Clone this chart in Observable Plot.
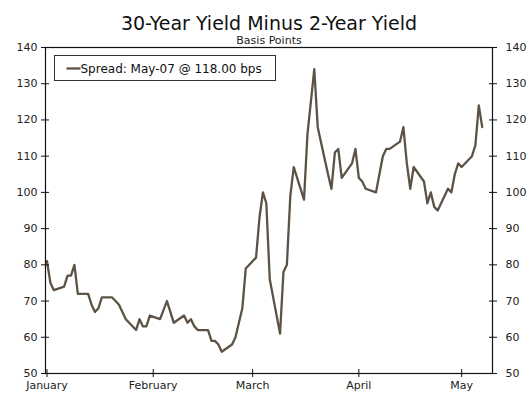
<!DOCTYPE html>
<html>
<head>
<meta charset="utf-8">
<script src="https://cdn.jsdelivr.net/npm/d3@7"></script>
<script src="https://cdn.jsdelivr.net/npm/@observablehq/plot@0.6"></script>
<style>
  body { margin: 0; background: #fff; }
  #chart svg { display: block; }
</style>
</head>
<body>
<div id="chart"></div>
<script>
// 30-year minus 2-year Treasury yield spread, basis points, one value per weekday
const janSpread = [81, 75, 73, 74, 77, 77, 80, 72, 72, 69, 67, 68, 71, 71, 70, 69, 67, 65, 62, 65, 63, 63, 66];
const febSpread = [65, 67.5, 70, 67, 64, 66, 64, 65, 63, 62, 62, 59, 59, 58, 56, 58, 60, 64, 68, 79];
const marSpread = [82, 93, 100, 97, 76, 61, 78, 80, 99, 107, 98, 116, 125, 134, 118, 105, 101, 111, 112, 104, 108, 112];
const aprSpread = [104, 103, 101, 100, 105, 110, 112, 112, 114, 118, 108, 101, 107, 103, 97, 100, 96, 95, 101, 100, 105, 108];
const maySpread = [107, 110, 113, 124, 118];

const firstDay = "2020-01-01";
const lastDay = "2020-05-07";
const yTicks = [50, 60, 70, 80, 90, 100, 110, 120, 130, 140];
const monthTicks = ["2020-01-01", "2020-02-01", "2020-03-01", "2020-04-01", "2020-05-01"];

const title = "30-Year Yield Minus 2-Year Yield";
const subtitle = "Basis Points";
const seriesName = "Spread";
const lineColor = "#5d5246";
const font = "'DejaVu Sans', Verdana, sans-serif";

// weekdays of the period, paired with the spread readings
const days = d3.utcDays(new Date(firstDay), d3.utcDay.offset(new Date(lastDay), 1))
  .filter(d => d.getUTCDay() !== 0 && d.getUTCDay() !== 6);
const values = [...janSpread, ...febSpread, ...marSpread, ...aprSpread, ...maySpread];
const rows = days.map((date, i) => ({date, spread: values[i]}));

const last = rows[rows.length - 1];
const legendLabel = `${seriesName}: ${d3.utcFormat("%b-%d")(last.date)} @ ${last.spread.toFixed(2)} bps`;

const axisStyle = {fontSize: 11, fontFamily: font, fill: "#222"};

const chart = Plot.plot({
  width: 529,
  height: 398,
  marginLeft: 45,
  marginRight: 37,
  marginTop: 47,
  marginBottom: 25,
  style: {fontFamily: font, background: "#fff", color: "#222"},
  x: {type: "utc", domain: [new Date("2019-12-31T13:30Z"), new Date("2020-05-10T00:00Z")]},
  y: {domain: [50, 140]},
  marks: [
    Plot.line(rows, {x: "date", y: "spread", stroke: lineColor, strokeWidth: 2.3, strokeLinejoin: "round"}),
    Plot.frame({stroke: "#111", strokeWidth: 1.2}),
    Plot.axisY({anchor: "left", ticks: yTicks, tickSize: 8, dx: 4, tickPadding: 4, label: null, stroke: "#111", ...axisStyle}),
    Plot.axisY({anchor: "right", ticks: yTicks, tickSize: 8, dx: -4, tickPadding: 9, label: null, stroke: "#111", ...axisStyle}),
    Plot.axisX({anchor: "bottom", ticks: monthTicks.map(d => new Date(d)), tickFormat: d3.utcFormat("%B"),
      tickSize: 8, dy: -4, tickPadding: 4, label: null, stroke: "#111", ...axisStyle}),
    Plot.text([title], {frameAnchor: "top", dy: -31, fontSize: 19, fontFamily: font, fill: "#111"}),
    Plot.text([subtitle], {frameAnchor: "top", dy: -11, fontSize: 11, fontFamily: font, fill: "#222"})
  ]
});

// legend box in the upper-left corner of the frame
const svg = d3.select(chart);
const legend = svg.append("g").attr("transform", "translate(54.5,55.5)");
legend.append("rect").attr("width", 221).attr("height", 25)
  .attr("fill", "#fff").attr("stroke", "#333").attr("stroke-width", 1);
legend.append("line").attr("x1", 12).attr("x2", 26).attr("y1", 13).attr("y2", 13)
  .attr("stroke", lineColor).attr("stroke-width", 2.3);
legend.append("text").attr("x", 26).attr("y", 13).attr("dy", "0.35em")
  .attr("text-anchor", "start")
  .attr("font-family", font).attr("font-size", 12).attr("fill", "#111")
  .text(legendLabel);

document.getElementById("chart").append(chart);
</script>
</body>
</html>
